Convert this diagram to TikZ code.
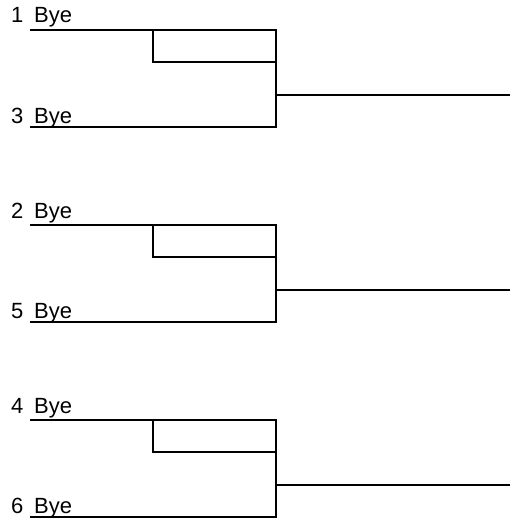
\documentclass[tikz,border=0pt]{standalone}
\usepackage{fontspec}
\setmainfont{Liberation Sans}
\begin{document}
\begin{tikzpicture}[x=1pt,y=-1pt,
  bracket/.style={line width=2pt,line join=miter},
  seedtxt/.style={inner sep=0pt,anchor=base west,font=\fontsize{22}{26}\selectfont},
  byetxt/.style={inner sep=0pt,anchor=base west,font=\fontsize{22}{26}\selectfont}]
\useasboundingbox (0,0) rectangle (512,524);
\foreach \i/\a/\b/\o in {1/1/3/0,2/2/5/195,3/4/6/390}{
  \coordinate (tl\i) at (30,30+\o);
  \coordinate (tr\i) at (276,30+\o);
  \coordinate (bl\i) at (30,127+\o);
  \coordinate (br\i) at (276,127+\o);
  \coordinate (it\i) at (153,30+\o);
  \coordinate (ib\i) at (153,62+\o);
  \coordinate (ir\i) at (276,62+\o);
  \coordinate (om\i) at (276,95+\o);
  \coordinate (oe\i) at (510,95+\o);
  \node[seedtxt] (na\i) at (11,23+\o) {\a};
  \node[byetxt] (ya\i) at (34,23+\o) {Bye};
  \node[seedtxt] (nb\i) at (11,123+\o) {\b};
  \node[byetxt] (yb\i) at (34,123+\o) {Bye};
  \draw[bracket] (tl\i) -- (tr\i) -- (br\i) -- (bl\i);
  \draw[bracket] (it\i) -- (ib\i) -- (ir\i);
  \draw[bracket] (om\i) -- (oe\i);
}
\end{tikzpicture}
\end{document}
